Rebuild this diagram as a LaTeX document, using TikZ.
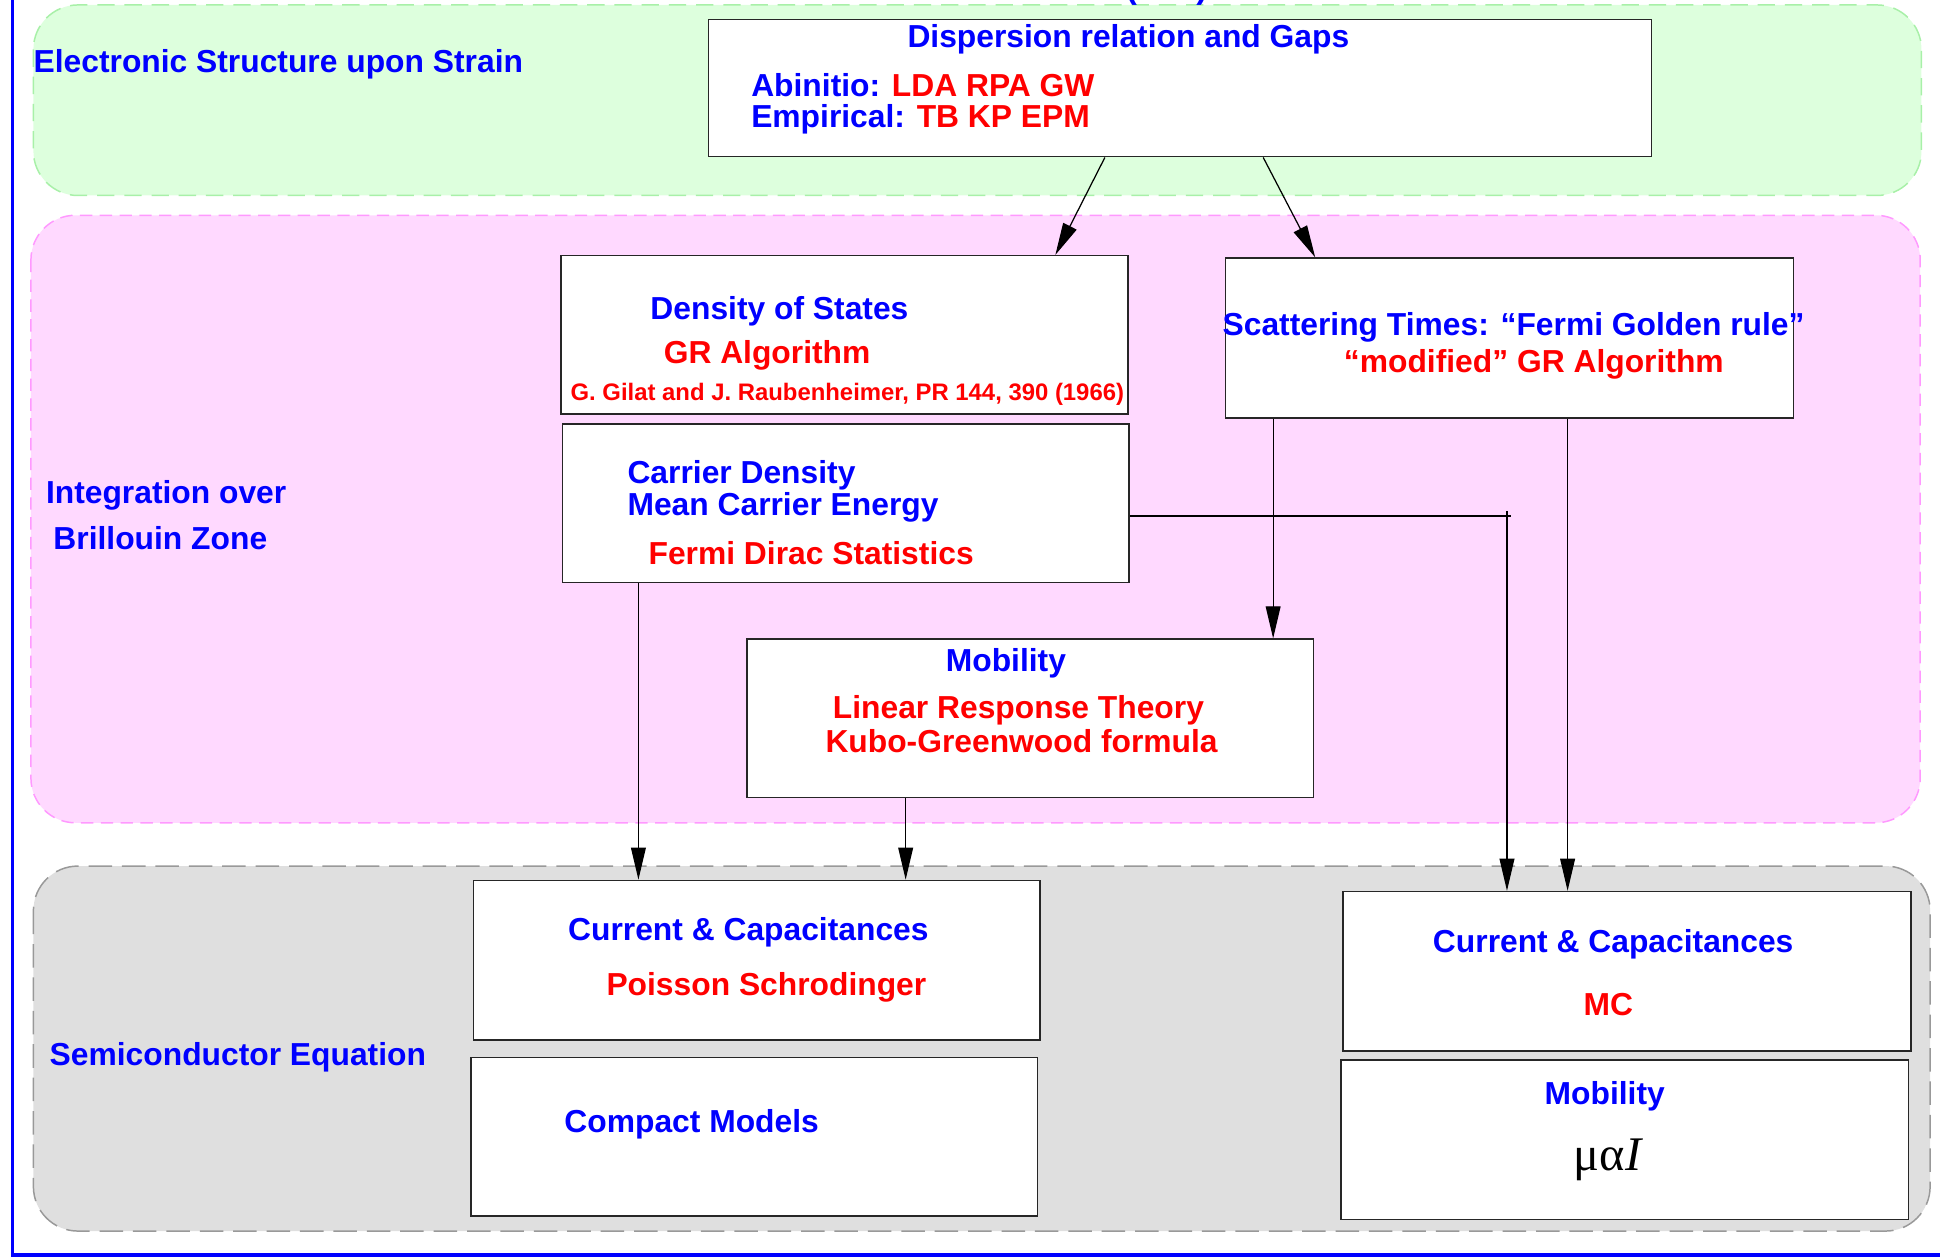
\documentclass[tikz,border=0pt]{standalone}
\usepackage{fontspec}
\setmainfont{Liberation Sans}
\newfontfamily\seriffam{Liberation Serif}
\usetikzlibrary{arrows.meta}
\definecolor{grfill}{HTML}{DDFFDD}
\definecolor{grline}{HTML}{A8F0A8}
\definecolor{pkfill}{HTML}{FFD9FF}
\definecolor{pkline}{HTML}{FF99FF}
\definecolor{gyfill}{HTML}{DFDFDF}
\definecolor{gyline}{HTML}{999999}
\tikzset{
  region/.style={line width=1.2pt, rounded corners=36pt},
  box/.style={draw=black!85, line width=1.3pt, fill=white, inner sep=0pt, anchor=north west},
  bl/.style={text=blue, font=\bfseries\fontsize{25.7}{30}\selectfont, inner sep=0pt},
  rd/.style={text=red, font=\bfseries\fontsize{25.7}{30}\selectfont, inner sep=0pt},
  rdsmall/.style={text=red, font=\bfseries\fontsize{19.3}{23}\selectfont, inner sep=0pt},
  arr/.style={-{Triangle[length=26pt,width=12pt]}, line width=1pt},
  conn/.style={line width=1pt},
}
\begin{document}
\begin{tikzpicture}[x=1pt,y=-1pt]
\useasboundingbox (0,0) rectangle (1568,1016);

% regions
\draw[region, fill=grfill, draw=grline, dash pattern=on 14pt off 8pt] (27,4) rectangle (1553,158);
\draw[region, fill=pkfill, draw=pkline, dash pattern=on 10pt off 6pt] (25,174) rectangle (1552,665);
\draw[region, fill=gyfill, draw=gyline, dash pattern=on 19pt off 8pt] (27,700) rectangle (1560,995);

% frame
\draw[blue, line width=3pt] (10,-3) -- (10,1014.5) -- (1572,1014.5);

% title remnant
\node[bl, anchor=base, font=\bfseries\fontsize{27}{30}\selectfont] (title) at (943,-1) {(\hspace{48pt})};

% region labels
\node[bl, anchor=base west] (lab1) at (27,59) {Electronic Structure upon Strain};
\node[bl, anchor=base west] (lab2a) at (37,407) {Integration over};
\node[bl, anchor=base west] (lab2b) at (43,444) {Brillouin Zone};
\node[bl, anchor=base west] (lab3) at (40,861) {Semiconductor Equation};

% boxes
\node[box, minimum width=762pt, minimum height=111pt] (disp) at (572,15) {};
\node[box, minimum width=458pt, minimum height=128pt] (dos) at (453,206) {};
\node[box, minimum width=459pt, minimum height=129pt] (scat) at (990,208) {};
\node[box, minimum width=458pt, minimum height=128pt] (carr) at (454,342) {};
\node[box, minimum width=458pt, minimum height=128pt] (mob) at (603,516) {};
\node[box, minimum width=458pt, minimum height=129pt] (curL) at (382,711) {};
\node[box, minimum width=458pt, minimum height=128pt] (comp) at (380,854) {};
\node[box, minimum width=459pt, minimum height=129pt] (curR) at (1085,720) {};
\node[box, minimum width=459pt, minimum height=129pt] (mobR) at (1083,856) {};

% texts
\node[bl, anchor=base] (t1) at (912,38) {Dispersion relation and Gaps};
\node[bl, anchor=base west] (t2) at (607,78) {Abinitio: \textcolor{red}{LDA RPA GW}};
\node[bl, anchor=base west] (t3) at (607,103) {Empirical: \textcolor{red}{TB KP EPM}};

\node[bl, anchor=base] (t4) at (630,258) {Density of States};
\node[rd, anchor=base] (t5) at (620,294) {GR Algorithm};
\node[rdsmall, anchor=base west] (t6) at (461,324) {G. Gilat and J. Raubenheimer, PR 144, 390 (1966)};

\node[bl, anchor=base west] (t7) at (988,271) {Scattering Times: “Fermi Golden rule”};
\node[rd, anchor=base west] (t8) at (1086,301) {“modified” GR Algorithm};

\node[bl, anchor=base west] (t9) at (507,391) {Carrier Density};
\node[bl, anchor=base west] (t10) at (507,417) {Mean Carrier Energy};
\node[rd, anchor=base west] (t11) at (524,456) {Fermi Dirac Statistics};

\node[bl, anchor=base] (t12) at (813,543) {Mobility};
\node[rd, anchor=base west] (t13) at (673,581) {Linear Response Theory};
\node[rd, anchor=base west] (t14) at (667,608) {Kubo-Greenwood formula};

\node[bl, anchor=base west] (t15) at (459,760) {Current \& Capacitances};
\node[rd, anchor=base west] (t16) at (490,805) {Poisson Schrodinger};
\node[bl, anchor=base west] (t17) at (456,915) {Compact Models};

\node[bl, anchor=base west] (t18) at (1158,770) {Current \& Capacitances};
\node[rd, anchor=base] (t19) at (1300,821) {MC};
\node[bl, anchor=base] (t20) at (1297,893) {Mobility};
\node[anchor=base, inner sep=0pt, font=\seriffam\fontsize{39}{44}\selectfont] (t21) at (1300,946) {μα\textit{I}};

% connectors
\draw[arr] (893,0 |- disp.south) -- (853,0 |- dos.north);
\draw[arr] (1021,0 |- disp.south) -- (1063,0 |- scat.north);
\draw[arr] (1029,0 |- scat.south) -- (1029,0 |- mob.north);
\draw[arr] (1267,0 |- scat.south) -- (1267,0 |- curR.north);
\draw[conn] (carr.east |- 0,417) -- (1221,417);
\coordinate (junc) at (1218,413);
\draw[arr] (junc) -- (1218,0 |- curR.north);
\draw[arr] (516,0 |- carr.south) -- (516,0 |- curL.north);
\draw[arr] (732,0 |- mob.south) -- (732,0 |- curL.north);
\end{tikzpicture}
\end{document}
